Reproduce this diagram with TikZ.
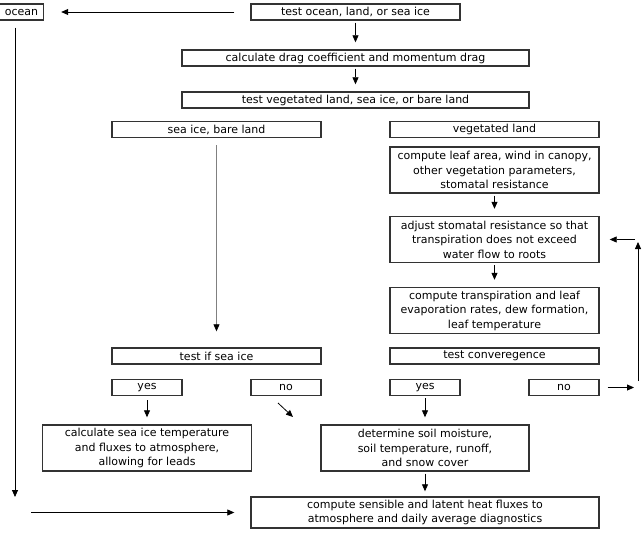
\documentclass[tikz,border=0pt]{standalone}
\usepackage{fontspec}
\setmainfont{DejaVu Sans}
\usetikzlibrary{positioning, arrows.meta}
\tikzset{
	>={Triangle[length=7pt,width=6pt]}, % Punta de flecha triangular
	caja/.style={draw=black!80, line width=1.4pt, inner sep=0pt, align=center,
		font=\fontsize{11}{14.5}\selectfont}, % Cajas del diagrama
	linea/.style={minimum height=16pt}, % Cajas de una sola linea
	tres/.style={minimum height=46pt}, % Cajas de tres lineas
	flecha/.style={->, line width=0.8pt, shorten <=2pt, shorten >=7pt} % Flechas entre cajas
}

\begin{document}
\begin{tikzpicture}[x=1pt, y=-1pt]
			\useasboundingbox (0,0) rectangle (644,532);
			% fila superior
			\node[caja, linea, minimum width=44pt] (ocean) at (21.5,12) {ocean};
			\node[caja, linea, minimum width=209pt] (test) at (355.5,12) {test ocean, land, or sea ice};
			\node[caja, linea, minimum width=347pt] (drag) at (355.5,58) {calculate drag coefficient and momentum drag};
			\node[caja, linea, minimum width=347pt] (veg) at (355.5,100) {test vegetated land, sea ice, or bare land};
			% rama izquierda
			\node[caja, linea, minimum width=209pt] (bare) at (216.5,129.5) {sea ice, bare land};
			\node[caja, linea, minimum width=209pt] (seaice) at (216.5,356) {test if sea ice};
			\node[caja, linea, minimum width=70pt] (yesA) at (147,387.5) {yes};
			\node[caja, linea, minimum width=70pt] (noA) at (286,387.5) {no};
			\node[caja, tres, minimum width=209pt] (icetemp) at (147,448) {calculate sea ice temperature\\and fluxes to atmosphere,\\allowing for leads};
			% rama derecha
			\node[caja, linea, minimum width=209pt] (vland) at (494.5,129.5) {vegetated land};
			\node[caja, tres, minimum width=209pt] (leaf) at (494.5,170) {compute leaf area, wind in canopy,\\other vegetation parameters,\\stomatal resistance};
			\node[caja, tres, minimum width=209pt] (stom) at (494.5,239.5) {adjust stomatal resistance so that\\transpiration does not exceed\\water flow to roots};
			\node[caja, tres, minimum width=209pt] (transp) at (494.5,310.5) {compute transpiration and leaf\\evaporation rates, dew formation,\\leaf temperature};
			\node[caja, linea, minimum width=209pt] (conv) at (494.5,356) {test converegence};
			\node[caja, linea, minimum width=70pt] (yesB) at (425,387.5) {yes};
			\node[caja, linea, minimum width=70pt] (noB) at (564,387.5) {no};
			\node[caja, tres, minimum width=208pt] (soil) at (425,448) {determine soil moisture,\\soil temperature, runoff,\\and snow cover};
			% fila inferior
			\node[caja, minimum height=31pt, minimum width=348pt] (fluxes) at (425,512.5) {compute sensible and latent heat fluxes to\\atmosphere and daily average diagnostics};
			% puntos libres
			\coordinate (o1) at (15,497);
			\coordinate (b0) at (31,512.5);
			\coordinate (d0) at (278,403);
			\coordinate (d1) at (293,417);
			\coordinate (l1) at (634,387.5);
			\coordinate (l2) at (638,381);
			\coordinate (l3) at (638,242);
			\coordinate (l4) at (635,239.5);
			\draw	(test) edge[flecha, shorten <=16pt, shorten >=17pt] (ocean)
					(test) edge[flecha] (drag)
					(drag) edge[flecha] (veg)
					(bare) edge[flecha, draw=gray, -{Triangle[length=7pt,width=6pt,black]}, shorten <=7pt, shorten >=16pt] (seaice)
					(yesA) edge[flecha, shorten <=4pt] (icetemp)
					(d0) edge[flecha, shorten <=0pt, shorten >=0pt] (d1)
					(leaf) edge[flecha] (stom)
					(stom) edge[flecha] (transp)
					(yesB) edge[flecha] (soil)
					(soil) edge[flecha, shorten >=5pt] (fluxes)
					(noB) edge[flecha, shorten <=8pt, shorten >=0pt] (l1)
					(l2) edge[flecha, shorten <=0pt, shorten >=0pt] (l3)
					(l4) edge[flecha, shorten <=0pt, shorten >=10pt] (stom)
					(b0) edge[flecha, shorten <=0pt, shorten >=16pt] (fluxes)
					;
			\draw[flecha, shorten <=0pt, shorten >=0pt] ([xshift=-6.5pt, yshift=-7pt]ocean.south) -- (o1);
\end{tikzpicture}
\end{document}
